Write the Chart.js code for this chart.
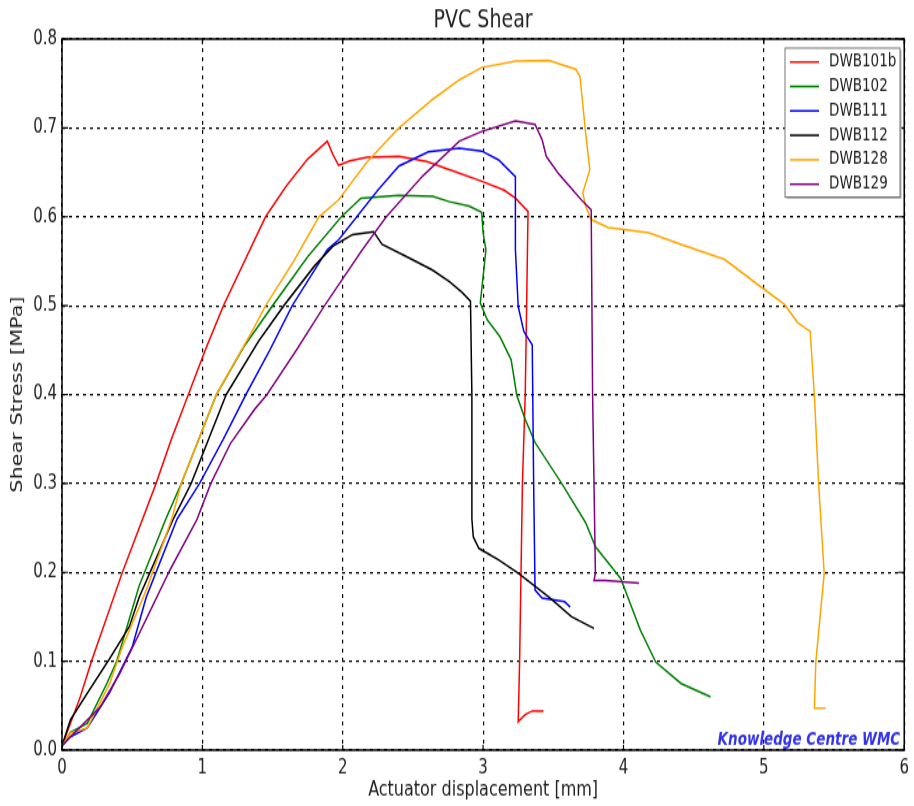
<!DOCTYPE html>
<html>
<head>
<meta charset="utf-8">
<title>PVC Shear</title>
<script src="https://cdn.jsdelivr.net/npm/chart.js@4.4.1/dist/chart.umd.min.js"></script>
<style>
    html, body { margin: 0; padding: 0; background: #fff; }
    #page { width: 914px; height: 806px; position: relative; overflow: hidden; }
    /* the reference picture is stretched vertically, so the whole canvas is too */
    #wrap { position: absolute; left: 0; top: 0; width: 914px; height: 620px; transform: scaleY(1.3); transform-origin: 0 0; }
</style>
</head>
<body>
<div id="page"><div id="wrap"><canvas id="shearChart" width="914" height="620"></canvas></div></div>
<script>
// PVC shear test curves
const xTicks = [0, 1, 2, 3, 4, 5, 6];
const yTicks = [0, 0.1, 0.2, 0.3, 0.4, 0.5, 0.6, 0.7, 0.8];
const seriesNames = ['DWB101b', 'DWB102', 'DWB111', 'DWB112', 'DWB128', 'DWB129'];
const seriesColors = ['#ff0000', '#008000', '#0000ff', '#000000', '#ffa500', '#800080'];

const dwb101bX = [0, 0.06, 0.13, 0.21, 0.32, 0.43, 0.55, 0.67, 0.78, 0.90, 1.02, 1.15, 1.30, 1.45, 1.60, 1.75, 1.89, 1.93, 1.97, 2.05, 2.17, 2.40, 2.60, 2.76, 2.99, 3.15, 3.23, 3.32, 3.31, 3.30, 3.28, 3.27, 3.26, 3.25, 3.30, 3.35, 3.43];
const dwb101bY = [0.005, 0.03, 0.06, 0.10, 0.15, 0.20, 0.25, 0.30, 0.35, 0.40, 0.45, 0.50, 0.55, 0.60, 0.635, 0.665, 0.685, 0.67, 0.658, 0.663, 0.667, 0.668, 0.662, 0.653, 0.640, 0.630, 0.621, 0.606, 0.50, 0.40, 0.30, 0.20, 0.10, 0.032, 0.04, 0.044, 0.044];

const dwb102X = [0, 0.06, 0.18, 0.32, 0.39, 0.55, 0.74, 0.85, 1.10, 1.30, 1.50, 1.75, 1.99, 2.13, 2.40, 2.64, 2.76, 2.90, 2.99, 3.00, 3.02, 2.98, 3.03, 3.12, 3.20, 3.24, 3.30, 3.37, 3.56, 3.73, 3.80, 3.98, 4.12, 4.23, 4.41, 4.62];
const dwb102Y = [0.005, 0.02, 0.03, 0.075, 0.10, 0.185, 0.26, 0.30, 0.40, 0.455, 0.50, 0.555, 0.60, 0.621, 0.624, 0.623, 0.617, 0.612, 0.605, 0.582, 0.563, 0.503, 0.484, 0.465, 0.439, 0.399, 0.372, 0.346, 0.30, 0.256, 0.229, 0.193, 0.135, 0.099, 0.075, 0.06];

const dwb111X = [0, 0.06, 0.18, 0.34, 0.50, 0.60, 0.82, 0.98, 1.15, 1.31, 1.48, 1.64, 1.89, 1.97, 2.10, 2.25, 2.40, 2.61, 2.83, 2.99, 3.11, 3.23, 3.23, 3.25, 3.29, 3.35, 3.36, 3.37, 3.42, 3.58, 3.62];
const dwb111Y = [0.005, 0.015, 0.025, 0.065, 0.116, 0.172, 0.26, 0.30, 0.35, 0.40, 0.45, 0.50, 0.563, 0.574, 0.60, 0.63, 0.657, 0.673, 0.677, 0.674, 0.664, 0.645, 0.563, 0.499, 0.471, 0.456, 0.30, 0.18, 0.171, 0.167, 0.161];

const dwb112X = [0, 0.06, 0.18, 0.34, 0.48, 0.55, 0.79, 0.92, 1.17, 1.40, 1.58, 1.80, 1.93, 2.07, 2.22, 2.28, 2.47, 2.64, 2.76, 2.85, 2.91, 2.92, 2.92, 2.93, 2.97, 3.11, 3.25, 3.47, 3.63, 3.79];
const dwb112Y = [0.005, 0.034, 0.064, 0.103, 0.139, 0.172, 0.259, 0.30, 0.40, 0.46, 0.50, 0.545, 0.567, 0.580, 0.583, 0.569, 0.554, 0.540, 0.527, 0.515, 0.505, 0.40, 0.26, 0.24, 0.227, 0.214, 0.199, 0.172, 0.15, 0.137];

const dwb128X = [0, 0.06, 0.18, 0.34, 0.43, 0.60, 0.78, 0.85, 1.10, 1.36, 1.45, 1.65, 1.83, 1.97, 2.17, 2.40, 2.64, 2.83, 2.99, 3.23, 3.47, 3.66, 3.69, 3.73, 3.76, 3.71, 3.73, 3.77, 3.89, 4.18, 4.41, 4.72, 4.98, 5.15, 5.24, 5.33, 5.36, 5.39, 5.43, 5.37, 5.36, 5.44];
const dwb128Y = [0.005, 0.019, 0.025, 0.075, 0.116, 0.18, 0.259, 0.30, 0.40, 0.473, 0.50, 0.55, 0.60, 0.619, 0.661, 0.70, 0.732, 0.754, 0.768, 0.775, 0.776, 0.766, 0.758, 0.695, 0.653, 0.627, 0.612, 0.597, 0.588, 0.582, 0.569, 0.552, 0.521, 0.501, 0.481, 0.471, 0.399, 0.30, 0.199, 0.099, 0.047, 0.047];

const dwb129X = [0, 0.06, 0.27, 0.41, 0.55, 0.77, 0.96, 1.06, 1.20, 1.37, 1.46, 1.67, 1.87, 2.14, 2.31, 2.57, 2.83, 2.99, 3.23, 3.37, 3.42, 3.45, 3.54, 3.70, 3.77, 3.78, 3.80, 3.79, 3.87, 4.11];
const dwb129Y = [0.005, 0.015, 0.048, 0.086, 0.131, 0.203, 0.259, 0.30, 0.345, 0.383, 0.40, 0.45, 0.50, 0.563, 0.60, 0.646, 0.685, 0.696, 0.708, 0.704, 0.687, 0.668, 0.648, 0.619, 0.608, 0.40, 0.199, 0.191, 0.191, 0.188];

const seriesX = [dwb101bX, dwb102X, dwb111X, dwb112X, dwb128X, dwb129X];
const seriesY = [dwb101bY, dwb102Y, dwb111Y, dwb112Y, dwb128Y, dwb129Y];

const FONT = "'DejaVu Sans', sans-serif";

function toPoints(xs, ys) {
    return xs.map((x, i) => ({ x: x, y: ys[i] }));
}

// frame, inward ticks, titles, legend box and the watermark
const decorPlugin = {
    id: 'decor',
    afterDraw(chart) {
        const ctx = chart.ctx;
        const area = chart.chartArea;
        const xs = chart.scales.x;
        const ys = chart.scales.y;
        ctx.save();

        // axes frame
        ctx.strokeStyle = '#000';
        ctx.lineWidth = 1.5;
        ctx.setLineDash([]);
        ctx.strokeRect(area.left, area.top, area.right - area.left, area.bottom - area.top);

        // inward tick marks on all four sides
        ctx.lineWidth = 1.2;
        ctx.beginPath();
        xTicks.forEach(v => {
            const px = xs.getPixelForValue(v);
            ctx.moveTo(px, area.bottom); ctx.lineTo(px, area.bottom - 4);
            ctx.moveTo(px, area.top); ctx.lineTo(px, area.top + 4);
        });
        yTicks.forEach(v => {
            const py = ys.getPixelForValue(v);
            ctx.moveTo(area.left, py); ctx.lineTo(area.left + 6, py);
            ctx.moveTo(area.right, py); ctx.lineTo(area.right - 6, py);
        });
        ctx.stroke();

        // title and axis titles
        ctx.fillStyle = '#222';
        ctx.textAlign = 'center';
        ctx.textBaseline = 'alphabetic';
        ctx.font = '19px ' + FONT;
        ctx.fillText('PVC Shear', (area.left + area.right) / 2, 21);
        ctx.font = '16px ' + FONT;
        ctx.fillText('Actuator displacement [mm]', (area.left + area.right) / 2, 612);
        ctx.save();
        ctx.translate(22, (area.top + area.bottom) / 2);
        ctx.rotate(-Math.PI / 2);
        ctx.fillText('Shear Stress [MPa]', 0, 0);
        ctx.restore();

        // legend box
        const bx = 785, by = 37, bw = 115, bh = 114.5;
        ctx.fillStyle = '#b5b5b5';
        ctx.fillRect(bx + 1.5, by + 1.5, bw, bh);
        ctx.fillStyle = '#fff';
        ctx.fillRect(bx, by, bw, bh);
        ctx.strokeStyle = '#777';
        ctx.lineWidth = 1;
        ctx.strokeRect(bx, by, bw, bh);
        ctx.font = '13.5px ' + FONT;
        ctx.textAlign = 'left';
        ctx.textBaseline = 'middle';
        seriesNames.forEach((name, i) => {
            const ry = by + 10.7 + i * 18.8;
            ctx.strokeStyle = seriesColors[i];
            ctx.lineWidth = 1.5;
            ctx.beginPath();
            ctx.moveTo(bx + 5, ry);
            ctx.lineTo(bx + 34, ry);
            ctx.stroke();
            ctx.fillStyle = '#222';
            ctx.fillText(name, bx + 44, ry);
        });

        // watermark
        ctx.font = 'italic bold 13.5px ' + FONT;
        ctx.textAlign = 'right';
        ctx.textBaseline = 'alphabetic';
        ctx.fillStyle = '#3333ee';
        ctx.fillText('Knowledge Centre WMC', area.right - 4, area.bottom - 4);

        ctx.restore();
    }
};

const ctx = document.getElementById('shearChart').getContext('2d');
const shearChart = new Chart(ctx, {
    type: 'line',
    data: {
        datasets: seriesNames.map((name, i) => ({
            label: name,
            data: toPoints(seriesX[i], seriesY[i]),
            borderColor: seriesColors[i],
            backgroundColor: seriesColors[i],
            borderWidth: 1.5,
            pointRadius: 0,
            tension: 0,
            fill: false,
            order: seriesNames.length - i
        }))
    },
    options: {
        responsive: false,
        animation: false,
        layout: { padding: { top: 30, right: 7, left: 0, bottom: 0 } },
        plugins: {
            legend: { display: false },
            title: { display: false },
            tooltip: { enabled: false }
        },
        scales: {
            x: {
                type: 'linear',
                min: 0,
                max: 6,
                afterFit: scale => { scale.height = 43; },
                afterBuildTicks: scale => { scale.ticks = xTicks.map(v => ({ value: v })); },
                ticks: {
                    color: '#222',
                    font: { family: FONT, size: 15 },
                    padding: 5,
                    callback: v => String(v)
                },
                grid: { color: '#000', lineWidth: 1.2, drawTicks: false },
                border: { display: false, dash: [3, 4] }
            },
            y: {
                type: 'linear',
                min: 0,
                max: 0.8,
                afterFit: scale => { scale.width = 62; },
                afterBuildTicks: scale => { scale.ticks = yTicks.map(v => ({ value: v })); },
                ticks: {
                    color: '#222',
                    font: { family: FONT, size: 15 },
                    padding: 5,
                    callback: v => v.toFixed(1)
                },
                grid: { color: '#000', lineWidth: 1.2, drawTicks: false },
                border: { display: false, dash: [3, 4] }
            }
        }
    },
    plugins: [decorPlugin]
});
</script>
</body>
</html>
